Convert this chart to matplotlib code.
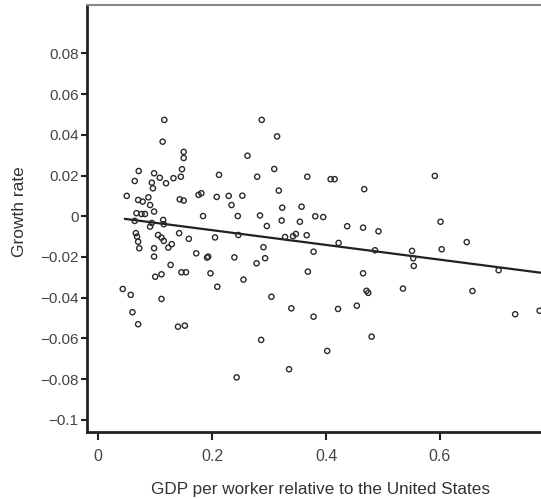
import numpy as np
import matplotlib
matplotlib.use("Agg")
from matplotlib import pyplot as plt

plt.rcParams['font.family'] = ['Liberation Sans', 'DejaVu Sans']

# GDP per worker relative to the US (x) and growth rate (y), one point per country
gdp_rel = [0.116, 0.113, 0.150, 0.150, 0.147, 0.071, 0.098, 0.064, 0.108, 0.119,
           0.132, 0.145, 0.094, 0.096, 0.050, 0.070, 0.078, 0.088, 0.143, 0.150,
           0.176, 0.181, 0.091, 0.067, 0.076, 0.082, 0.098, 0.184, 0.064, 0.091,
           0.094, 0.114, 0.115, 0.066, 0.068, 0.070, 0.072, 0.105, 0.111, 0.115,
           0.123, 0.129, 0.142, 0.159, 0.098, 0.098, 0.172, 0.191, 0.127, 0.100,
           0.111, 0.146, 0.154, 0.043, 0.057, 0.111, 0.060, 0.070, 0.140, 0.152,
           0.287, 0.314, 0.262, 0.309, 0.212, 0.279, 0.367, 0.408, 0.415, 0.317,
           0.208, 0.229, 0.253, 0.234, 0.323, 0.357, 0.245, 0.284, 0.381, 0.395,
           0.296, 0.322, 0.354, 0.205, 0.246, 0.328, 0.342, 0.347, 0.366, 0.290,
           0.378, 0.193, 0.239, 0.293, 0.278, 0.197, 0.368, 0.255, 0.209, 0.304,
           0.339, 0.378, 0.286, 0.402, 0.335, 0.243, 0.467, 0.591, 0.437, 0.465,
           0.492, 0.601, 0.647, 0.422, 0.486, 0.551, 0.553, 0.554, 0.603, 0.465,
           0.471, 0.474, 0.535, 0.657, 0.703, 0.421, 0.454, 0.480, 0.732, 0.775]
growth = [0.0473, 0.0366, 0.0316, 0.0286, 0.0231, 0.0222, 0.0211, 0.0173, 0.0189, 0.0162,
          0.0187, 0.0194, 0.0165, 0.0137, 0.0100, 0.0080, 0.0072, 0.0093, 0.0083, 0.0077,
          0.0105, 0.0113, 0.0055, 0.0015, 0.0011, 0.0011, 0.0023, 0.0001, -0.0023, -0.0051,
          -0.0033, -0.0018, -0.0039, -0.0083, -0.0100, -0.0125, -0.0157, -0.0092, -0.0105, -0.0121,
          -0.0154, -0.0137, -0.0083, -0.0111, -0.0157, -0.0198, -0.0182, -0.0203, -0.0239, -0.0297,
          -0.0285, -0.0275, -0.0275, -0.0357, -0.0386, -0.0406, -0.0471, -0.0530, -0.0542, -0.0537,
          0.0473, 0.0392, 0.0297, 0.0232, 0.0203, 0.0194, 0.0194, 0.0182, 0.0182, 0.0126,
          0.0095, 0.0100, 0.0101, 0.0055, 0.0042, 0.0047, 0.0001, 0.0004, 0.0000, -0.0004,
          -0.0048, -0.0021, -0.0027, -0.0104, -0.0092, -0.0102, -0.0098, -0.0087, -0.0093, -0.0152,
          -0.0174, -0.0198, -0.0202, -0.0206, -0.0231, -0.0280, -0.0272, -0.0311, -0.0346, -0.0395,
          -0.0452, -0.0493, -0.0607, -0.0661, -0.0751, -0.0791, 0.0133, 0.0198, -0.0049, -0.0056,
          -0.0074, -0.0027, -0.0127, -0.0131, -0.0167, -0.0170, -0.0206, -0.0244, -0.0162, -0.0280,
          -0.0366, -0.0376, -0.0355, -0.0367, -0.0265, -0.0455, -0.0439, -0.0591, -0.0481, -0.0464]

# fitted line: growth = a + b * gdp_rel
fit_a = 0.0004
fit_b = -0.0362
fit_x = [0.047, 0.80]

xticks = [0, 0.2, 0.4, 0.6]
xtick_labels = ['0', '0.2', '0.4', '0.6']
yticks = [-0.1, -0.08, -0.06, -0.04, -0.02, 0, 0.02, 0.04, 0.06, 0.08]
ytick_labels = ['\u22120.1', '\u22120.08', '\u22120.06', '\u22120.04', '\u22120.02',
                '0', '0.02', '0.04', '0.06', '0.08']

fig = plt.figure(figsize=(5.41, 4.99), dpi=100)
ax = fig.add_axes([0.1608, 0.1343, 0.8392, 0.8557])

ax.scatter(gdp_rel, growth, s=14, facecolors='none', edgecolors='#2a2a2a',
           linewidths=1.0, zorder=3)
fx = np.array(fit_x)
ax.plot(fx, fit_a + fit_b * fx, color='#222222', lw=1.6, zorder=2)

ax.set_xlim(-0.0198, 0.7774)
ax.set_ylim(-0.1059, 0.1037)

ax.set_xticks(xticks)
ax.set_xticklabels(xtick_labels)
ax.set_yticks(yticks)
ax.set_yticklabels(ytick_labels)

ax.spines['right'].set_visible(False)
ax.spines['top'].set_color('#888888')
ax.spines['top'].set_linewidth(1.5)
for side in ['left', 'bottom']:
    ax.spines[side].set_linewidth(2.0)
    ax.spines[side].set_color('#222222')

ax.tick_params(axis='y', direction='out', length=4, width=1.5, pad=2,
               labelsize=11, labelcolor='#444444', color='#222222')
ax.tick_params(axis='x', direction='out', length=6, width=1.5, pad=6,
               labelsize=11.5, labelcolor='#444444', color='#222222')

ax.set_xlabel('GDP per worker relative to the United States', fontsize=12.3, color='#333333')
ax.set_ylabel('Growth rate', fontsize=12.5, color='#333333')
ax.xaxis.set_label_coords(0.515, -0.117)
ax.yaxis.set_label_coords(-0.132, 0.515)

fig.savefig('out.png', dpi=100)
